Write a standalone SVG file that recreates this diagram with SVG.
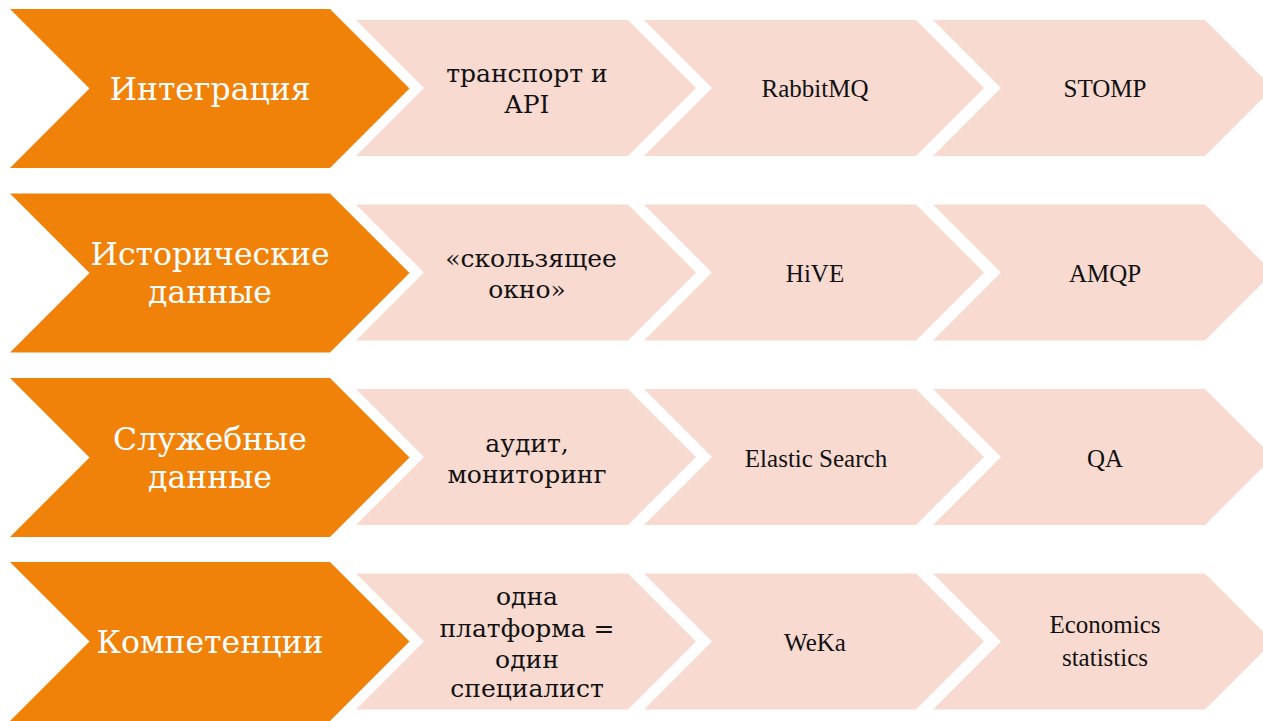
<svg xmlns="http://www.w3.org/2000/svg" xmlns:xlink="http://www.w3.org/1999/xlink" width="1263" height="721" viewBox="0 0 1263 721">
<style>
.o{fill:#F0820A}
.p{fill:#F8DAD1}
.h{font-family:"DejaVu Serif","Liberation Serif",serif;font-size:31.5px;fill:#FFFFFF;text-anchor:middle}
.c1{font-family:"DejaVu Serif","Liberation Serif",serif;font-size:25px;fill:#111111;text-anchor:middle}
.c2{font-family:"Liberation Serif","DejaVu Serif",serif;font-size:25px;fill:#111111;text-anchor:middle}
</style>
<defs>
<path id="oc" d="M0,0 H320 L399.5,79.5 L320,159 H0 L79.5,79.5 Z"/>
<path id="pc" d="M0,0 H272 L340,68 L272,136 H0 L68,68 Z"/>
</defs>
<rect width="1263" height="721" fill="#FFFFFF"/>
<g id="row1">
<g id="n1"><use xlink:href="#oc" class="o" x="10" y="9"/><text class="h" x="210" y="100">Интеграция</text></g>
<g id="n1a"><use xlink:href="#pc" class="p" x="356" y="20"/><text class="c1" x="527" y="82">транспорт и</text><text class="c1" x="527" y="113">API</text></g>
<g id="n1b"><use xlink:href="#pc" class="p" x="644" y="20"/><text class="c2" x="815" y="97">RabbitMQ</text></g>
<g id="n1c"><use xlink:href="#pc" class="p" x="933" y="20"/><text class="c2" x="1105" y="97">STOMP</text></g>
</g>
<g id="row2">
<g id="n2"><use xlink:href="#oc" class="o" x="10" y="193.5"/><text class="h" x="210" y="265">Исторические</text><text class="h" x="210" y="303">данные</text></g>
<g id="n2a"><use xlink:href="#pc" class="p" x="356" y="204.5"/><text class="c1" x="531" y="267">«скользящее</text><text class="c1" x="527" y="298">окно»</text></g>
<g id="n2b"><use xlink:href="#pc" class="p" x="644" y="204.5"/><text class="c2" x="815" y="282">HiVE</text></g>
<g id="n2c"><use xlink:href="#pc" class="p" x="933" y="204.5"/><text class="c2" x="1105" y="282">AMQP</text></g>
</g>
<g id="row3">
<g id="n3"><use xlink:href="#oc" class="o" x="10" y="378"/><text class="h" x="210" y="450">Служебные</text><text class="h" x="210" y="488">данные</text></g>
<g id="n3a"><use xlink:href="#pc" class="p" x="356" y="389"/><text class="c1" x="527" y="452">аудит,</text><text class="c1" x="527" y="483">мониторинг</text></g>
<g id="n3b"><use xlink:href="#pc" class="p" x="644" y="389"/><text class="c2" x="816" y="467">Elastic Search</text></g>
<g id="n3c"><use xlink:href="#pc" class="p" x="933" y="389"/><text class="c2" x="1105" y="467">QA</text></g>
</g>
<g id="row4">
<g id="n4"><use xlink:href="#oc" class="o" x="10" y="562"/><text class="h" x="210" y="653">Компетенции</text></g>
<g id="n4a"><use xlink:href="#pc" class="p" x="356" y="573.5"/><text class="c1" x="527" y="605">одна</text><text class="c1" x="527" y="637">платформа =</text><text class="c1" x="527" y="668">один</text><text class="c1" x="527" y="697">специалист</text></g>
<g id="n4b"><use xlink:href="#pc" class="p" x="644" y="573.5"/><text class="c2" x="815" y="651">WeKa</text></g>
<g id="n4c"><use xlink:href="#pc" class="p" x="933" y="573.5"/><text class="c2" x="1105" y="633">Economics</text><text class="c2" x="1105" y="666">statistics</text></g>
</g>
<g id="connectors"/>
</svg>
